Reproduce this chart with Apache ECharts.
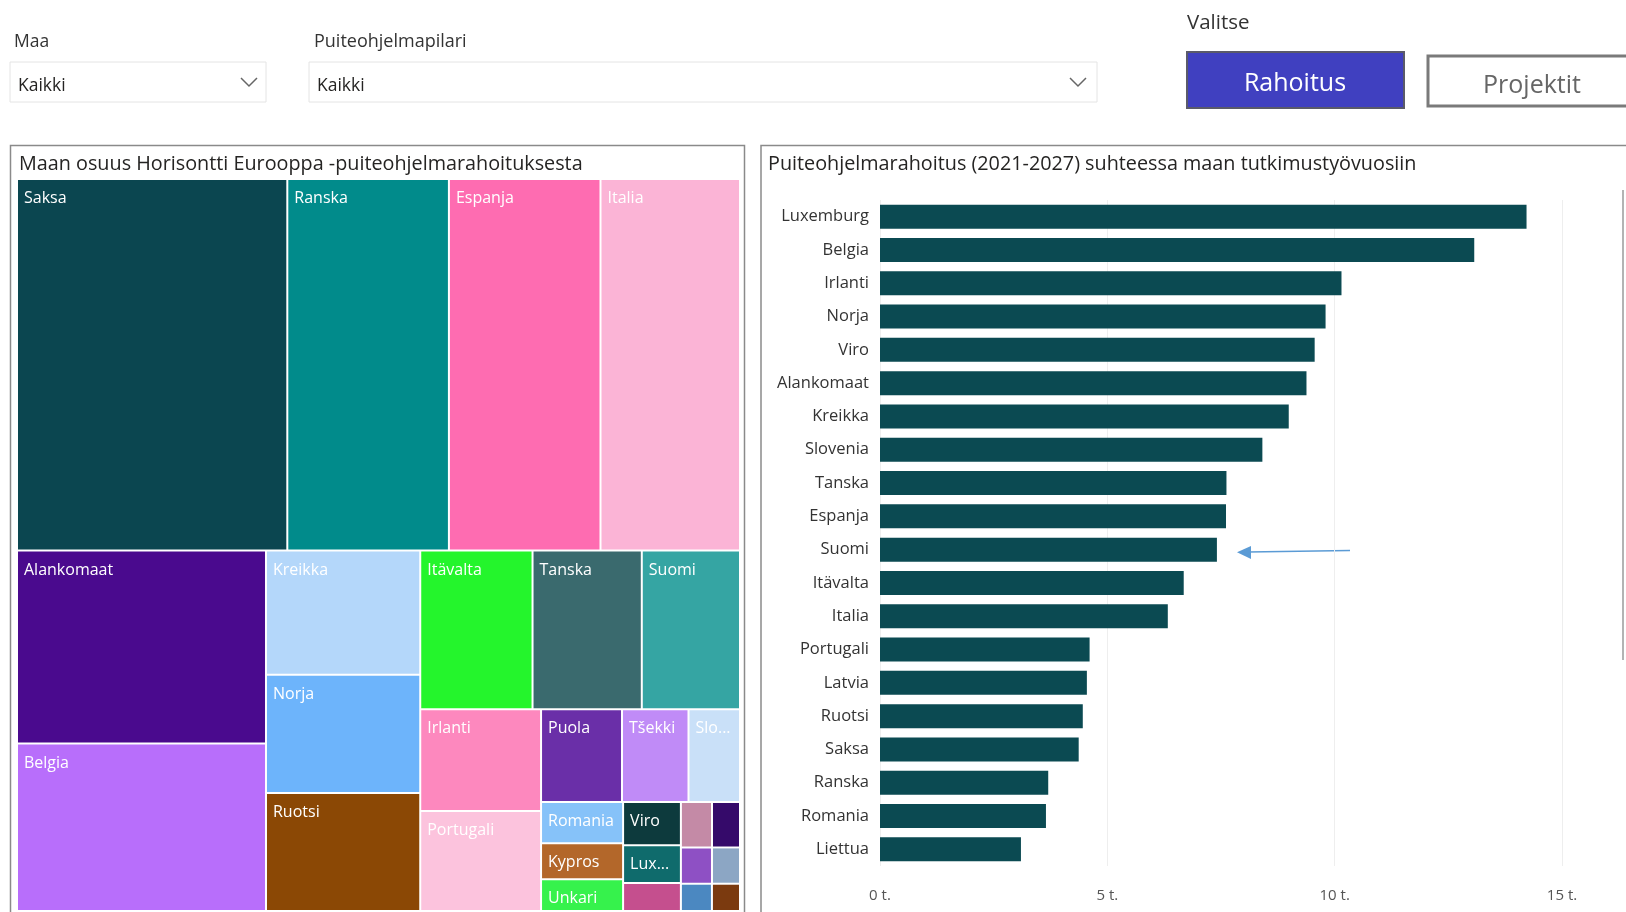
<!DOCTYPE html>
<html>
<head>
<meta charset="utf-8">
<script src="https://cdn.jsdelivr.net/npm/echarts@6/dist/echarts.min.js"></script>
<style>
html,body{margin:0;padding:0;background:#fff;}
#EchartBox{width:1626px;height:912px;}
</style>
</head>
<body>
<div id="EchartBox"></div>
<script>
// treemap: maan osuus (arvot luettu laatikoiden pinta-aloista)
var treeNames = ['Saksa','Ranska','Espanja','Italia','Alankomaat','Belgia','Kreikka','Norja','Ruotsi','Itävalta','Tanska','Suomi','Irlanti','Portugali','Puola','Tšekki','Slovenia','Romania','Kypros','Unkari','Viro','Luxemburg','Slovakia','Kroatia','Liettua','Bulgaria','Latvia','Malta','Islanti'];
var treeValues = [9967,5959,5589,5144,4768,4138,1902,1810,1805,1769,1721,1547,1218,1200,745,612,474,336,292,259,248,217,160,140,126,112,101,84,76];
var treeColors = ['#0b4650','#018b8b','#fe6cb1','#fbb4d6','#4a0a8e','#b86efb','#b4d7fa','#6db4fb','#8b4805','#24f52c','#3a6a6e','#35a5a3','#fd88be','#fcc3dd','#6a2fa8','#c08bf7','#c9e0f8','#86c2f9','#b3672a','#36f24c','#0d3a3d','#0f6b6c','#c54f8e','#c48aa6','#350a6a','#8e50c4','#8ca6c4','#4b88c1','#7b3a0f'];
var hiddenLabels = ['Slovakia','Kroatia','Liettua','Bulgaria','Latvia','Malta','Islanti'];

// pylväät: rahoitus suhteessa tutkimustyövuosiin (t.)
var barNames = ['Luxemburg','Belgia','Irlanti','Norja','Viro','Alankomaat','Kreikka','Slovenia','Tanska','Espanja','Suomi','Itävalta','Italia','Portugali','Latvia','Ruotsi','Saksa','Ranska','Romania','Liettua'];
var barValues = [14.22,13.07,10.15,9.8,9.56,9.38,8.99,8.41,7.62,7.61,7.41,6.68,6.33,4.61,4.55,4.46,4.37,3.70,3.65,3.10];
var xTicks = [0,5,10,15];

var fontName = "'Segoe UI','Open Sans','Noto Sans',sans-serif";

var treeData = [];
for (var i = 0; i < treeNames.length; i++) {
	var item = {name: treeNames[i], value: treeValues[i], itemStyle: {color: treeColors[i]}};
	if (hiddenLabels.indexOf(treeNames[i]) != -1) {
		item.label = {show: false};
	}
	treeData.push(item);
}

function txt(x, y, s, size, color, align) {
	return {type: 'text', x: x, y: y, style: {text: s, fontSize: size, fontFamily: fontName, fill: color, align: align || 'left', verticalAlign: 'middle'}};
}

var graphics = [
	// valitsimet
	txt(14, 42, 'Maa', 17.5, '#333'),
	{type: 'rect', shape: {x: 10, y: 62, width: 256, height: 40}, style: {fill: '#fff', stroke: '#e4e4e4', lineWidth: 1}},
	txt(18, 86, 'Kaikki', 17.5, '#252423'),
	{type: 'polyline', shape: {points: [[241,78],[249,86],[257,78]]}, style: {stroke: '#666', lineWidth: 1.5, fill: null}},
	txt(314, 42, 'Puiteohjelmapilari', 18, '#333'),
	{type: 'rect', shape: {x: 309, y: 62, width: 788, height: 40}, style: {fill: '#fff', stroke: '#e4e4e4', lineWidth: 1}},
	txt(317, 86, 'Kaikki', 17.5, '#252423'),
	{type: 'polyline', shape: {points: [[1070,78],[1078,86],[1086,78]]}, style: {stroke: '#666', lineWidth: 1.5, fill: null}},
	txt(1187, 23, 'Valitse', 20.5, '#333'),
	{type: 'rect', shape: {x: 1187, y: 52, width: 217, height: 56}, style: {fill: '#4040c0', stroke: '#5a5a6a', lineWidth: 2}},
	txt(1295, 84, 'Rahoitus', 25, '#fff', 'center'),
	{type: 'rect', shape: {x: 1428, y: 56, width: 220, height: 50}, style: {fill: '#fff', stroke: '#7a7a7a', lineWidth: 3}},
	txt(1532, 86, 'Projektit', 25, '#666', 'center'),
	// paneelit
	{type: 'rect', shape: {x: 10.5, y: 145.5, width: 734, height: 800}, style: {fill: null, stroke: '#8a8a8a', lineWidth: 1.5}},
	txt(19, 164, 'Maan osuus Horisontti Eurooppa -puiteohjelmarahoituksesta', 19.8, '#252423'),
	{type: 'rect', shape: {x: 761, y: 145.5, width: 900, height: 800}, style: {fill: null, stroke: '#8a8a8a', lineWidth: 1.5}},
	{type: 'line', shape: {x1: 1623, y1: 190, x2: 1623, y2: 660}, style: {stroke: '#9a9a9a', lineWidth: 1.5}},
	txt(768, 164, 'Puiteohjelmarahoitus (2021-2027) suhteessa maan tutkimustyövuosiin', 19.8, '#252423'),
	// nuoli Suomen kohdalla
	{type: 'polyline', shape: {points: [[1350,550.5],[1248,552]]}, style: {stroke: '#5b9bd5', lineWidth: 1.5, fill: null}},
	{type: 'polygon', shape: {points: [[1237,552.3],[1251,546],[1251,559]]}, style: {fill: '#5b9bd5'}}
];

var myChart = echarts.init(document.getElementById('EchartBox'));
var option = {
	backgroundColor: '#fff',
	animation: false,
	textStyle: {fontFamily: fontName},
	graphic: graphics,
	grid: {left: 880, right: 64, top: 200, bottom: 46},
	xAxis: {
		type: 'value', min: 0, max: 15, interval: 5,
		axisLine: {show: false}, axisTick: {show: false},
		splitLine: {lineStyle: {color: '#eeeeee', width: 1}},
		axisLabel: {color: '#555', fontSize: 15, margin: 22, formatter: function (v) { return xTicks.indexOf(v) != -1 ? v + ' t.' : ''; }}
	},
	yAxis: {
		type: 'category', data: barNames, inverse: true,
		axisLine: {show: false}, axisTick: {show: false},
		axisLabel: {color: '#333', fontSize: 16.5, margin: 11}
	},
	series: [
		{
			type: 'bar', data: barValues, barCategoryGap: '28%',
			itemStyle: {color: '#0b4a52'}
		},
		{
			type: 'treemap', data: treeData,
			left: 18, top: 180, width: 721, height: 730,
			roam: false, nodeClick: false,
			breadcrumb: {show: false},
			itemStyle: {borderWidth: 0, gapWidth: 2, borderColor: '#fff'},
			label: {show: true, position: 'insideTopLeft', color: '#fff', fontSize: 16, lineHeight: 17, padding: [10, 1, 0, 6], overflow: 'truncate', ellipsis: '...'},
			tooltip: {show: false}
		}
	]
};
myChart.setOption(option);
</script>
</body>
</html>
